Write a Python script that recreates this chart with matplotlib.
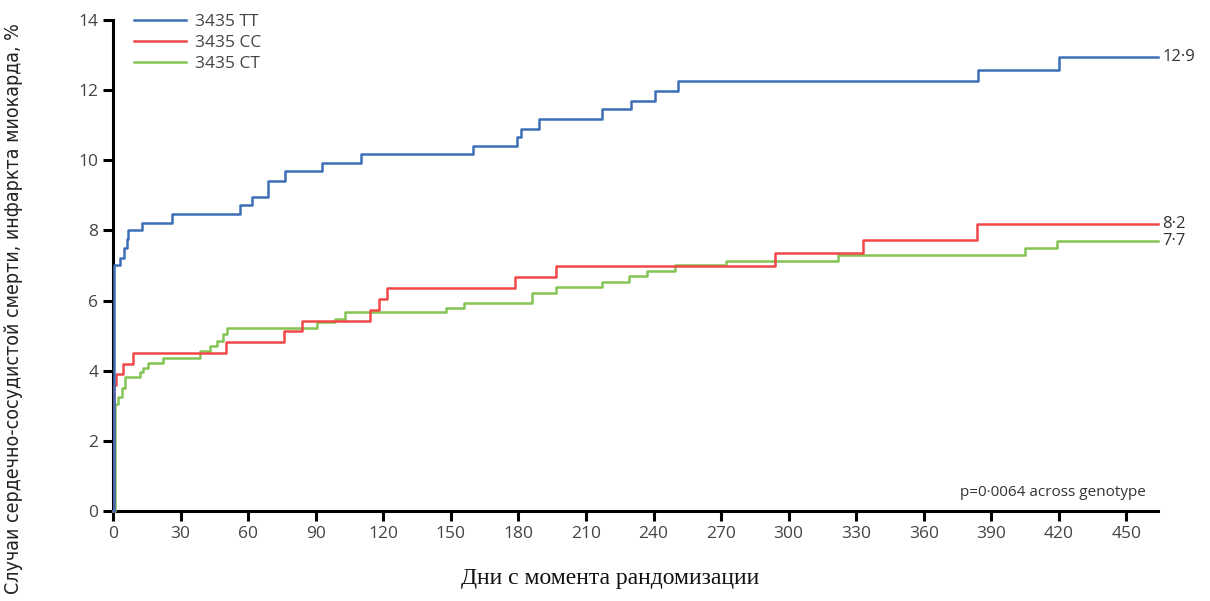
import matplotlib
matplotlib.use('Agg')
import matplotlib.pyplot as plt

# Kaplan-Meier style cumulative curves
tt_days = [0, 0.3, 3, 5, 6, 6.7, 12.7, 26, 56.4, 61.6, 69, 76.3, 92.6, 110, 159.7,
           179.5, 181, 189, 217, 230, 240.6, 251, 384, 420, 464]
tt_vals = [0, 7.0, 7.2, 7.5, 7.75, 8.0, 8.22, 8.48, 8.71, 8.95, 9.42, 9.68, 9.93, 10.17, 10.4,
           10.65, 10.9, 11.17, 11.45, 11.7, 11.97, 12.25, 12.57, 12.93, 12.93]

cc_days = [0, 0.5, 1.2, 4.3, 9, 50, 76, 84, 114, 118, 121.8, 178.7, 196.6, 293.8, 333, 383.8, 464]
cc_vals = [0, 3.6, 3.9, 4.19, 4.5, 4.81, 5.12, 5.42, 5.72, 6.05, 6.36, 6.67, 6.99, 7.36, 7.73, 8.17, 8.17]

ct_days = [0, 0.8, 2.3, 3.9, 5.3, 12, 13.5, 15.7, 22.3, 38.6, 43, 46, 49, 50.5, 90.7, 98.5, 103,
           148, 156, 186, 196.6, 217, 229, 237, 249.4, 272, 322, 405, 419, 464]
ct_vals = [0, 3.05, 3.24, 3.52, 3.81, 3.95, 4.08, 4.21, 4.36, 4.55, 4.71, 4.86, 5.05, 5.22, 5.38, 5.48, 5.67,
           5.79, 5.93, 6.22, 6.38, 6.52, 6.69, 6.84, 7.0, 7.12, 7.29, 7.5, 7.69, 7.69]

labels = ['3435 TT', '3435 CC', '3435 CT']
end_labels = ['12·9', '8·2', '7·7']
colors = ['#3c6fb6', '#f04848', '#84c455']
x_ticks = list(range(0, 451, 30))
y_ticks = list(range(0, 15, 2))

tick_font = 'Open Sans'

fig = plt.figure(figsize=(12.1, 6.01), dpi=100)
ax = fig.add_axes([0.0934, 0.1498, 0.8636, 0.817])

series = [(tt_days, tt_vals), (cc_days, cc_vals), (ct_days, ct_vals)]
zorders = [4, 3.2, 3]
for (d, v), lab, col, end, z in zip(series, labels, colors, end_labels, zorders):
    ax.step(d, v, where='post', color=col, lw=1.8, label=lab, zorder=z, clip_on=False)
    ax.text(d[-1] + 2, v[-1], end, va='center', ha='left', fontsize=12,
            color='#333333', family=tick_font, clip_on=False)

ax.set_xlim(0, 464)
ax.set_ylim(0, 14)
ax.set_xticks(x_ticks)
ax.set_yticks(y_ticks)
ax.spines['top'].set_visible(False)
ax.spines['right'].set_visible(False)
ax.spines['left'].set_linewidth(2.2)
ax.spines['bottom'].set_linewidth(2.2)
ax.tick_params(direction='out', length=7, width=2.2, labelsize=12.5, labelcolor='#444444')
for t in ax.get_xticklabels() + ax.get_yticklabels():
    t.set_family(tick_font)

ax.text(0.988, 0.038, 'p=0·0064 across genotype', transform=ax.transAxes, ha='right',
        va='center', fontsize=11, color='#333333', family=tick_font)

leg = ax.legend(loc='upper left', bbox_to_anchor=(0.005, 1.045), frameon=False,
                handlelength=3.0, handletextpad=0.5, labelspacing=0.3,
                prop={'family': tick_font, 'size': 12.5})
for t in leg.get_texts():
    t.set_color('#444444')

fig.text(0.011, 0.486, 'Случаи сердечно-сосудистой смерти, инфаркта миокарда, %',
         rotation=90, ha='center', va='center', fontsize=14,
         family='DejaVu Sans', fontstretch='condensed', color='#222222')
fig.text(0.504, 0.038, 'Дни с момента рандомизации', ha='center', va='center',
         fontsize=17, family='Liberation Serif', color='#111111')

fig.savefig('out.png', dpi=100)
